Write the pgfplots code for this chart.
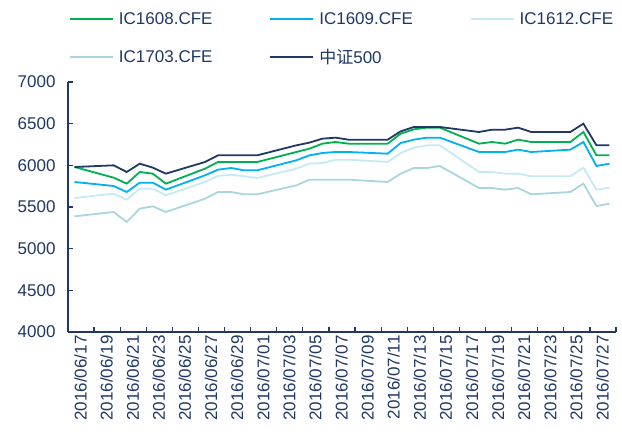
\documentclass[border=0pt]{standalone}
\usepackage{fontspec}
\setmainfont{Liberation Sans}
\newfontfamily\cjk{Noto Sans CJK SC}
\usepackage{pgfplots}
\pgfplotsset{compat=1.18}
\definecolor{navy}{HTML}{1F3864}
\definecolor{cgreen}{HTML}{00B050}
\definecolor{cblue}{HTML}{00B0F0}
\definecolor{clight}{HTML}{C6E9F8}
\definecolor{cteal}{HTML}{A8D5E0}
\begin{document}
\begin{tikzpicture}
\path[use as bounding box] (0,0) rectangle (622bp,441bp);
\begin{axis}[
  at={(68bp,109bp)}, anchor=south west,
  scale only axis, width=548bp, height=250bp,
  xmin=-0.5, xmax=41.5, ymin=4000, ymax=7000,
  ytick={4000,4500,...,7000},
  xtick={0,2,...,40},
  xticklabels={2016/06/17,2016/06/19,2016/06/21,2016/06/23,2016/06/25,2016/06/27,2016/06/29,2016/07/01,2016/07/03,2016/07/05,2016/07/07,2016/07/09,2016/07/11,2016/07/13,2016/07/15,2016/07/17,2016/07/19,2016/07/21,2016/07/23,2016/07/25,2016/07/27},
  minor xtick={-0.5,1.5,...,41.5},
  major x tick style={draw=none},
  minor x tick style={draw=navy, line width=1.2bp},
  major y tick style={draw=navy, line width=1.2bp},
  major tick length=5bp, minor tick length=5bp,
  tick align=inside,
  axis lines*=left,
  axis line style={navy, line width=1.4bp},
  scaled y ticks=false,
  /pgf/number format/.cd, 1000 sep={}, assume math mode=true, /pgfplots/.cd,
  tick label style={font=\fontsize{17bp}{20bp}\selectfont, text=navy},
  xticklabel style={rotate=90, anchor=east, yshift=-6bp},
  yticklabel style={xshift=-9bp},
  legend columns=3,
  legend cell align=left,
  legend image code/.code={\draw[#1, line width=1.8bp] (0bp,0bp) -- (43bp,0bp);},
  legend style={draw=none, fill=none, at={(0,1)}, anchor=south west, xshift=-2bp, yshift=13bp,
    font=\fontsize{17bp}{20bp}\selectfont, text=navy, row sep=19bp,
    /tikz/every even column/.append style={column sep=55bp},
    /tikz/every odd column/.append style={column sep=3bp}},
  every axis plot/.append style={line width=1.8bp, mark=none},
]
\addplot[cgreen] coordinates {(0,5980)(3,5852)(4,5780)(5,5920)(6,5900)(7,5780)(10,5960)(11,6040)(12,6040)(13,6040)(14,6040)(17,6160)(18,6200)(19,6260)(20,6280)(21,6260)(24,6260)(25,6380)(26,6432)(27,6452)(28,6452)(31,6260)(32,6280)(33,6260)(34,6308)(35,6280)(38,6280)(39,6400)(40,6120)(41,6120)};
\addlegendentry{IC1608.CFE}
\addplot[cblue] coordinates {(0,5800)(3,5752)(4,5680)(5,5792)(6,5792)(7,5708)(10,5880)(11,5948)(12,5968)(13,5940)(14,5940)(17,6060)(18,6120)(19,6148)(20,6160)(21,6160)(24,6140)(25,6268)(26,6308)(27,6332)(28,6332)(31,6160)(32,6160)(33,6160)(34,6188)(35,6160)(38,6188)(39,6280)(40,5992)(41,6020)};
\addlegendentry{IC1609.CFE}
\addplot[clight] coordinates {(0,5608)(3,5660)(4,5588)(5,5720)(6,5720)(7,5640)(10,5800)(11,5872)(12,5888)(13,5868)(14,5848)(17,5960)(18,6020)(19,6028)(20,6068)(21,6068)(24,6040)(25,6148)(26,6212)(27,6240)(28,6240)(31,5920)(32,5920)(33,5900)(34,5900)(35,5868)(38,5868)(39,5972)(40,5708)(41,5732)};
\addlegendentry{IC1612.CFE}
\addplot[cteal] coordinates {(0,5388)(3,5440)(4,5320)(5,5480)(6,5508)(7,5440)(10,5600)(11,5680)(12,5680)(13,5652)(14,5652)(17,5760)(18,5828)(19,5828)(20,5828)(21,5828)(24,5800)(25,5900)(26,5968)(27,5968)(28,5992)(31,5728)(32,5728)(33,5708)(34,5728)(35,5652)(38,5680)(39,5780)(40,5512)(41,5540)};
\addlegendentry{IC1703.CFE}
\addplot[navy] coordinates {(0,5980)(3,6000)(4,5920)(5,6020)(6,5972)(7,5900)(10,6040)(11,6120)(12,6120)(13,6120)(14,6120)(17,6240)(18,6272)(19,6320)(20,6332)(21,6308)(24,6308)(25,6408)(26,6460)(27,6460)(28,6460)(31,6400)(32,6428)(33,6428)(34,6452)(35,6400)(38,6400)(39,6500)(40,6240)(41,6240)};
\addlegendentry{{\cjk 中证}500}
\end{axis}
\end{tikzpicture}
\end{document}
